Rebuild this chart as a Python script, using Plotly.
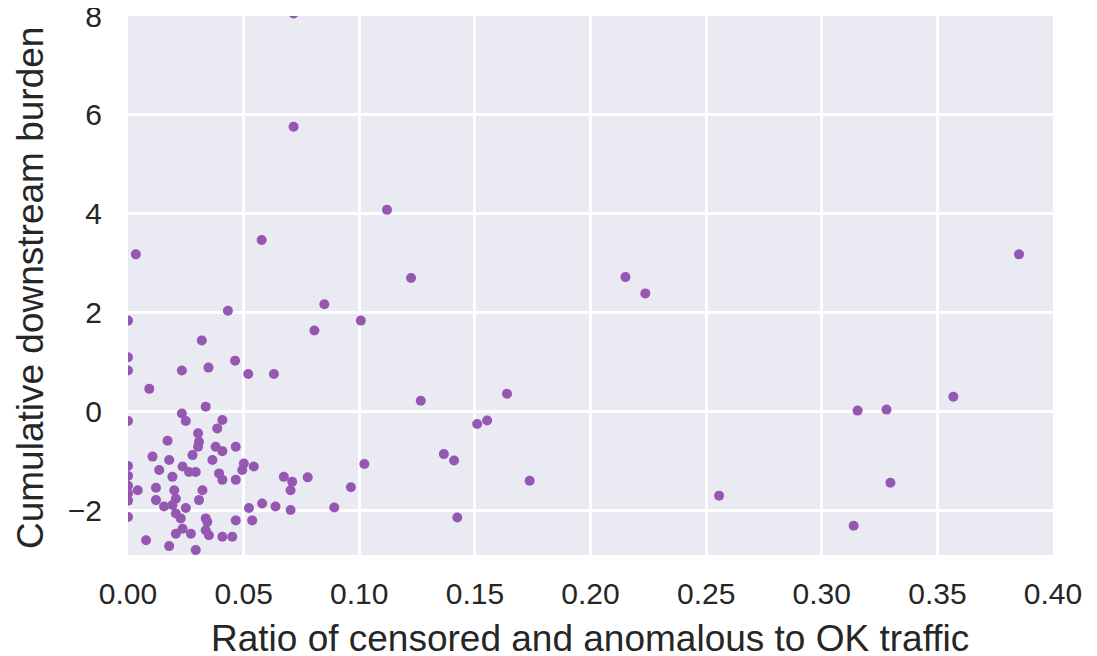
import plotly.graph_objects as go

# Ratio of censored and anomalous to OK traffic (x) and cumulative downstream burden (y)
x_ratio = [
    0.0716, 0.0716, 0.112, 0.0034, 0.0578, 0.1224, 0.2151, 0.2237, 0.3853, 0.0849,
    0.0432, 0.1007, 0.0806, 0.0, 0.0319, 0.0, 0.0463, 0.0, 0.0233, 0.0348,
    0.052, 0.0631, 0.0092, 0.1266, 0.1639, 0.151, 0.1553, 0.1366, 0.141, 0.1022,
    0.0777, 0.0964, 0.1737, 0.0892, 0.1424, 0.2556, 0.3155, 0.328, 0.3569, 0.3297,
    0.3138,
    0.0336, 0.0, 0.0233, 0.025, 0.0408, 0.0386, 0.0303, 0.0171, 0.0307, 0.0379,
    0.0466, 0.0408, 0.0303, 0.0279, 0.0106, 0.0178, 0.0365, 0.0501, 0.0544, 0.0236,
    0.0264, 0.0293, 0.0135, 0.0, 0.0, 0.0, 0.0, 0.0, 0.0, 0.0192,
    0.0394, 0.0408, 0.0466, 0.0494, 0.0042, 0.0121, 0.02, 0.0322, 0.0207, 0.0121,
    0.0307, 0.0156, 0.0192, 0.025, 0.0207, 0.0228, 0.0236, 0.0207, 0.0272, 0.0343,
    0.0336, 0.035, 0.0336, 0.0466, 0.0537, 0.0523, 0.058, 0.0638, 0.0703, 0.0674,
    0.071, 0.0703, 0.0408, 0.0451, 0.0078, 0.0178, 0.0293,
]
y_burden = [
    8.05, 5.76, 4.08, 3.18, 3.47, 2.70, 2.72, 2.39, 3.18, 2.17,
    2.04, 1.84, 1.64, 1.84, 1.44, 1.10, 1.03, 0.83, 0.83, 0.89,
    0.76, 0.76, 0.46, 0.22, 0.36, -0.25, -0.18, -0.86, -0.99, -1.06,
    -1.33, -1.53, -1.40, -1.94, -2.14, -1.70, 0.02, 0.04, 0.30, -1.44,
    -2.31,
    0.10, -0.19, -0.04, -0.19, -0.17, -0.34, -0.44, -0.59, -0.61, -0.71,
    -0.71, -0.80, -0.71, -0.88, -0.91, -0.98, -0.98, -1.05, -1.11, -1.11,
    -1.22, -1.22, -1.18, -1.10, -1.30, -1.50, -1.65, -1.80, -2.13, -1.32,
    -1.25, -1.38, -1.38, -1.18, -1.59, -1.54, -1.59, -1.59, -1.76, -1.79,
    -1.79, -1.92, -1.89, -1.95, -2.06, -2.16, -2.37, -2.47, -2.47, -2.23,
    -2.40, -2.50, -2.16, -2.20, -2.20, -1.95, -1.86, -1.92, -1.99, -1.32,
    -1.42, -1.59, -2.53, -2.53, -2.60, -2.72, -2.80,
]

x_ticks = [0.0, 0.05, 0.10, 0.15, 0.20, 0.25, 0.30, 0.35, 0.40]
x_tick_labels = ["0.00", "0.05", "0.10", "0.15", "0.20", "0.25", "0.30", "0.35", "0.40"]
y_ticks = [-2, 0, 2, 4, 6, 8]

x_title = "Ratio of censored and anomalous to OK traffic"
y_title = "Cumulative downstream burden"

fig = go.Figure(
    go.Scatter(
        x=x_ratio,
        y=y_burden,
        mode="markers",
        marker=dict(color="#9557b2", size=10, line=dict(width=0)),
        cliponaxis=True,
        showlegend=False,
    )
)

font_family = "Liberation Sans, Arial, sans-serif"
text_color = "#262626"

# the page puts the figure 8px in from the top-left corner of the window
W, H = 1089, 648
ML, MR, MT, MB = 120, 44, 8, 101
PW, PH = W - ML - MR, H - MT - MB

fig.update_layout(
    width=W,
    height=H,
    margin=dict(l=ML, r=MR, t=MT, b=MB, autoexpand=False),
    paper_bgcolor="white",
    plot_bgcolor="#EAEAF2",
    font=dict(family=font_family, color=text_color),
)
fig.update_xaxes(
    range=[0.0, 0.40],
    tickvals=x_ticks,
    ticktext=x_tick_labels,
    showgrid=True,
    gridcolor="white",
    gridwidth=2.5,
    zeroline=False,
    showline=False,
    ticks="",
    automargin=False,
    ticklabelstandoff=18,
    ticklabeloverflow="allow",
    tickfont=dict(size=30, color=text_color),
)
fig.update_yaxes(
    range=[-2.9, 8.0],
    tickvals=y_ticks,
    showgrid=True,
    gridcolor="white",
    gridwidth=2.5,
    zeroline=False,
    showline=False,
    ticks="",
    automargin=False,
    ticklabelstandoff=25,
    ticklabeloverflow="allow",
    tickfont=dict(size=30, color=text_color),
)

# axis titles as paper-positioned annotations (figure pixel coordinates)
fig.add_annotation(
    text=x_title, xref="paper", yref="paper",
    x=(582 - ML) / PW, y=-(630 - (H - MB)) / PH,
    showarrow=False, xanchor="center", yanchor="middle",
    font=dict(size=37, color=text_color, family=font_family),
)
fig.add_annotation(
    text=y_title, xref="paper", yref="paper",
    x=-(ML - 22) / PW, y=((H - MB) - 280) / PH,
    showarrow=False, xanchor="center", yanchor="middle", textangle=-90,
    font=dict(size=37, color=text_color, family=font_family),
)

fig.write_html("out.html")
